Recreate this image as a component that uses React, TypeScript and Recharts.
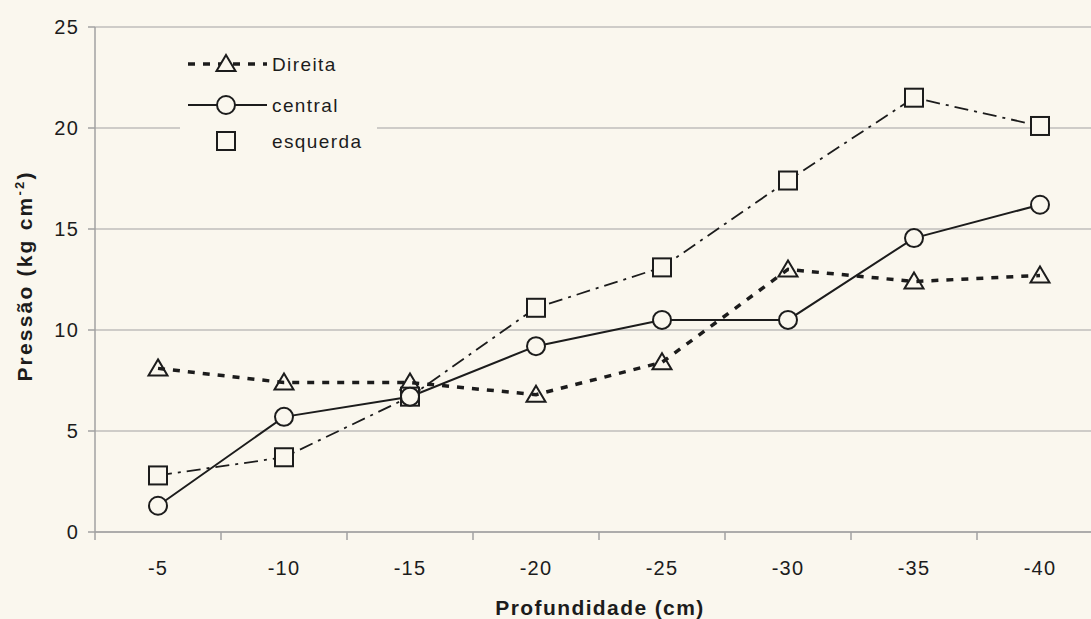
import React from 'react'
import { LineChart, Line, XAxis, YAxis, CartesianGrid } from 'recharts'

const categories = ['-5', '-10', '-15', '-20', '-25', '-30', '-35', '-40']
const direita = [8.1, 7.4, 7.4, 6.8, 8.4, 13.0, 12.4, 12.7]
const central = [1.3, 5.7, 6.7, 9.2, 10.5, 10.5, 14.55, 16.2]
const esquerda = [2.8, 3.7, 6.7, 11.1, 13.1, 17.4, 21.5, 20.1]
const yTicks = [0, 5, 10, 15, 20, 25]

const BG = '#faf7ee'
const INK = '#1c1c1c'
const GRID = '#a2a2a2'
const FONT = '"Liberation Sans", Arial, sans-serif'

const data = categories.map((c, i) => ({
  x: i + 1, label: c, direita: direita[i], central: central[i], esquerda: esquerda[i],
}))

// category centres get labels, band edges get tick marks (Excel style)
const xTicks = [...categories.flatMap((_, i) => [i + 0.5, i + 1]), categories.length + 0.5]

const Tri = ({ cx, cy, fill = 'none' }: any) => (
  <polygon points={`${cx},${cy - 9} ${cx + 9.5},${cy + 7} ${cx - 9.5},${cy + 7}`} fill={fill} stroke={INK} strokeWidth={2} />
)
const Circ = ({ cx, cy }: any) => <circle cx={cx} cy={cy} r={9} fill={BG} stroke={INK} strokeWidth={2} />
const Sq = ({ cx, cy }: any) => <rect x={cx - 9} y={cy - 9} width={18} height={18} fill={BG} stroke={INK} strokeWidth={2} />

const XTick = ({ x, y, payload }: any) => {
  const v = payload.value
  if (Number.isInteger(v)) {
    return (
      <text x={x} y={y + 43} textAnchor="middle" fontSize={20} letterSpacing={1.2} fontFamily={FONT} fill={INK}>
        {categories[v - 1]}
      </text>
    )
  }
  return <line x1={x} x2={x} y1={y} y2={y + 8} stroke={GRID} strokeWidth={1.5} />
}

const YTick = ({ x, y, payload }: any) => (
  <text x={x + 1} y={y + 7} textAnchor="end" fontSize={20} letterSpacing={1.2} fontFamily={FONT} fill={INK}>
    {payload.value}
  </text>
)

const YLabel = () => (
  <text transform="translate(32,276) rotate(-90)" textAnchor="middle" fontSize={21} fontWeight="bold"
    letterSpacing={2.2} fontFamily={FONT} fill={INK}>
    Pressão (kg cm<tspan dy={-8} fontSize={13}>-2</tspan><tspan dy={8}>)</tspan>
  </text>
)

const XLabel = () => (
  <text x={600} y={615} textAnchor="middle" fontSize={21} fontWeight="bold" letterSpacing={1.4}
    fontFamily={FONT} fill={INK}>
    Profundidade (cm)
  </text>
)

function LegendBox() {
  const rows = [
    { name: 'Direita', dash: '7 8', width: 3.5, Mark: Tri, line: true, cy: 24 },
    { name: 'central', dash: undefined, width: 2, Mark: Circ, line: true, cy: 65 },
    { name: 'esquerda', dash: undefined, width: 0, Mark: Sq, line: false, cy: 101 },
  ]
  return (
    <svg width={197} height={122} style={{ position: 'absolute', left: 180, top: 40, background: BG }}>
      {rows.map(r => (
        <g key={r.name}>
          {r.line && <line x1={8} x2={87} y1={r.cy} y2={r.cy} stroke={INK} strokeWidth={r.width} strokeDasharray={r.dash} />}
          <r.Mark cx={46} cy={r.cy} fill={BG} />
          <text x={92} y={r.cy + 7} fontSize={19} letterSpacing={1.4} fontFamily={FONT} fill={INK}>{r.name}</text>
        </g>
      ))}
    </svg>
  )
}

export default function App() {
  return (
    <div style={{ position: 'absolute', left: 0, top: 0, width: 1091, height: 619, overflow: 'hidden', background: BG }}>
      <LineChart width={1103} height={619} data={data} margin={{ top: 27, right: 0, bottom: 20, left: 0 }}>
        <CartesianGrid horizontal vertical={false} stroke={GRID} strokeWidth={1.2} />
        <XAxis
          dataKey="x" type="number" domain={[0.5, 8.5]} ticks={xTicks} interval={0}
          tickSize={0} tickMargin={0} tick={<XTick />} height={67}
          axisLine={{ stroke: GRID, strokeWidth: 1.5 }}
        />
        <YAxis
          domain={[0, 25]} ticks={yTicks} width={95} tickSize={7} tickMargin={10}
          tick={<YTick />}
          axisLine={{ stroke: GRID, strokeWidth: 1.5 }} tickLine={{ stroke: GRID, strokeWidth: 1.5 }}
        />
        <Line dataKey="direita" stroke={INK} strokeWidth={3.5} strokeDasharray="7 8" isAnimationActive={false}
          dot={(p: any) => <Tri key={`t${p.index}`} cx={p.cx} cy={p.cy} />} />
        <Line dataKey="esquerda" stroke={INK} strokeWidth={1.8} strokeDasharray="14 6 3 6" isAnimationActive={false}
          dot={(p: any) => <Sq key={`s${p.index}`} cx={p.cx} cy={p.cy} />} />
        <Line dataKey="central" stroke={INK} strokeWidth={2} isAnimationActive={false}
          dot={(p: any) => <Circ key={`c${p.index}`} cx={p.cx} cy={p.cy} />} />
        <YLabel />
        <XLabel />
      </LineChart>
      <LegendBox />
    </div>
  )
}
